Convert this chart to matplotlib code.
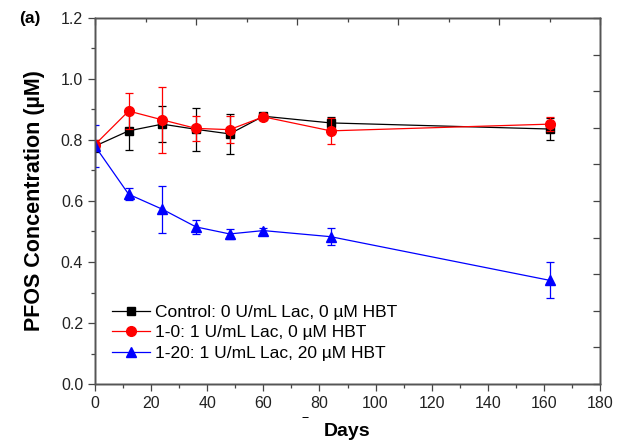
import matplotlib
matplotlib.use('Agg')
import matplotlib.pyplot as plt
from matplotlib.ticker import MultipleLocator

plt.rcParams['font.family'] = ['Liberation Sans', 'DejaVu Sans']

days = [0, 12, 24, 36, 48, 60, 84, 162]

control = [0.78, 0.83, 0.852, 0.835, 0.82, 0.878, 0.856, 0.836]
control_err = [0.02, 0.063, 0.06, 0.07, 0.065, 0.01, 0.02, 0.037]

lac_0 = [0.785, 0.895, 0.866, 0.838, 0.834, 0.876, 0.83, 0.852]
lac_0_err = [0.015, 0.06, 0.107, 0.04, 0.045, 0.01, 0.043, 0.023]

lac_20 = [0.78, 0.622, 0.573, 0.515, 0.492, 0.503, 0.483, 0.34]
lac_20_err = [0.07, 0.02, 0.077, 0.022, 0.015, 0.01, 0.028, 0.059]

labels = ['Control: 0 U/mL Lac, 0 \u00b5M HBT',
          '1-0: 1 U/mL Lac, 0 \u00b5M HBT',
          '1-20: 1 U/mL Lac, 20 \u00b5M HBT']

fig = plt.figure(figsize=(6.29, 4.41), dpi=100)
ax = fig.add_axes([95/629, 57/441, 505/629, 366/441])

c1 = ax.errorbar(days, control, yerr=control_err, fmt='-s', color='black',
                 ms=5.5, lw=0.9, elinewidth=0.9, capsize=3, capthick=0.9,
                 zorder=3)
c2 = ax.errorbar(days, lac_0, yerr=lac_0_err, fmt='-o', color='#ff0000',
                 ms=7, lw=0.9, elinewidth=0.9, capsize=3, capthick=0.9,
                 zorder=4)
c3 = ax.errorbar(days, lac_20, yerr=lac_20_err, fmt='-^', color='#0000ff',
                 ms=7.5, lw=0.9, elinewidth=0.9, capsize=3, capthick=0.9,
                 zorder=5)

ax.set_xlim(0, 180)
ax.set_ylim(0, 1.2)
ax.xaxis.set_major_locator(MultipleLocator(20))
ax.xaxis.set_minor_locator(MultipleLocator(10))
ax.yaxis.set_major_locator(MultipleLocator(0.2))
ax.yaxis.set_minor_locator(MultipleLocator(0.1))
ax.yaxis.set_major_formatter(plt.FormatStrFormatter('%.1f'))
ax.tick_params(which='major', direction='out', length=5, width=0.9,
               labelsize=11.5, colors='#444444', labelcolor='#222222')
ax.tick_params(which='minor', direction='out', length=3, width=0.9,
               colors='#444444')
for s in ax.spines.values():
    s.set_color('#555555')
    s.set_linewidth(1.0)

# inward ticks on the top and right frame
axt = ax.twiny()
axt.set_xlim(0, 10)
axt.xaxis.set_major_locator(MultipleLocator(2))
axt.xaxis.set_minor_locator(MultipleLocator(1))
axt.tick_params(which='major', direction='in', length=5, width=0.9,
                colors='#444444', labeltop=False)
axt.tick_params(which='minor', direction='in', length=3, width=0.9,
                colors='#444444')
axr = ax.twinx()
axr.set_ylim(0, 10)
axr.yaxis.set_major_locator(MultipleLocator(1))
axr.tick_params(which='major', direction='in', length=5, width=0.9,
                colors='#444444', labelright=False)
for a in (axt, axr):
    for s in a.spines.values():
        s.set_color('#555555')
        s.set_linewidth(1.0)

ax.set_xlabel('Days', fontsize=14, fontweight='bold', labelpad=9)
fig.text(35/629, 1 - 201/441, 'PFOS Concentration (\u00b5M)', rotation=90,
         fontsize=15.5, fontweight='bold', ha='center', va='center')
fig.text(305/629, 1 - 425/441, '\u203e', fontsize=11, ha='center',
         va='center')
fig.text(30/629, 1 - 19/441, '(a)', fontsize=12.5, fontweight='bold',
         ha='center', va='center')

axr.legend([c1.lines[0], c2.lines[0], c3.lines[0]], labels,
           loc='lower left', bbox_to_anchor=(0.02, 0.045), frameon=False,
           fontsize=12.5, handlelength=2.2, handletextpad=0.25,
           labelspacing=0.3, borderaxespad=0)

fig.savefig('out.png', dpi=100)
